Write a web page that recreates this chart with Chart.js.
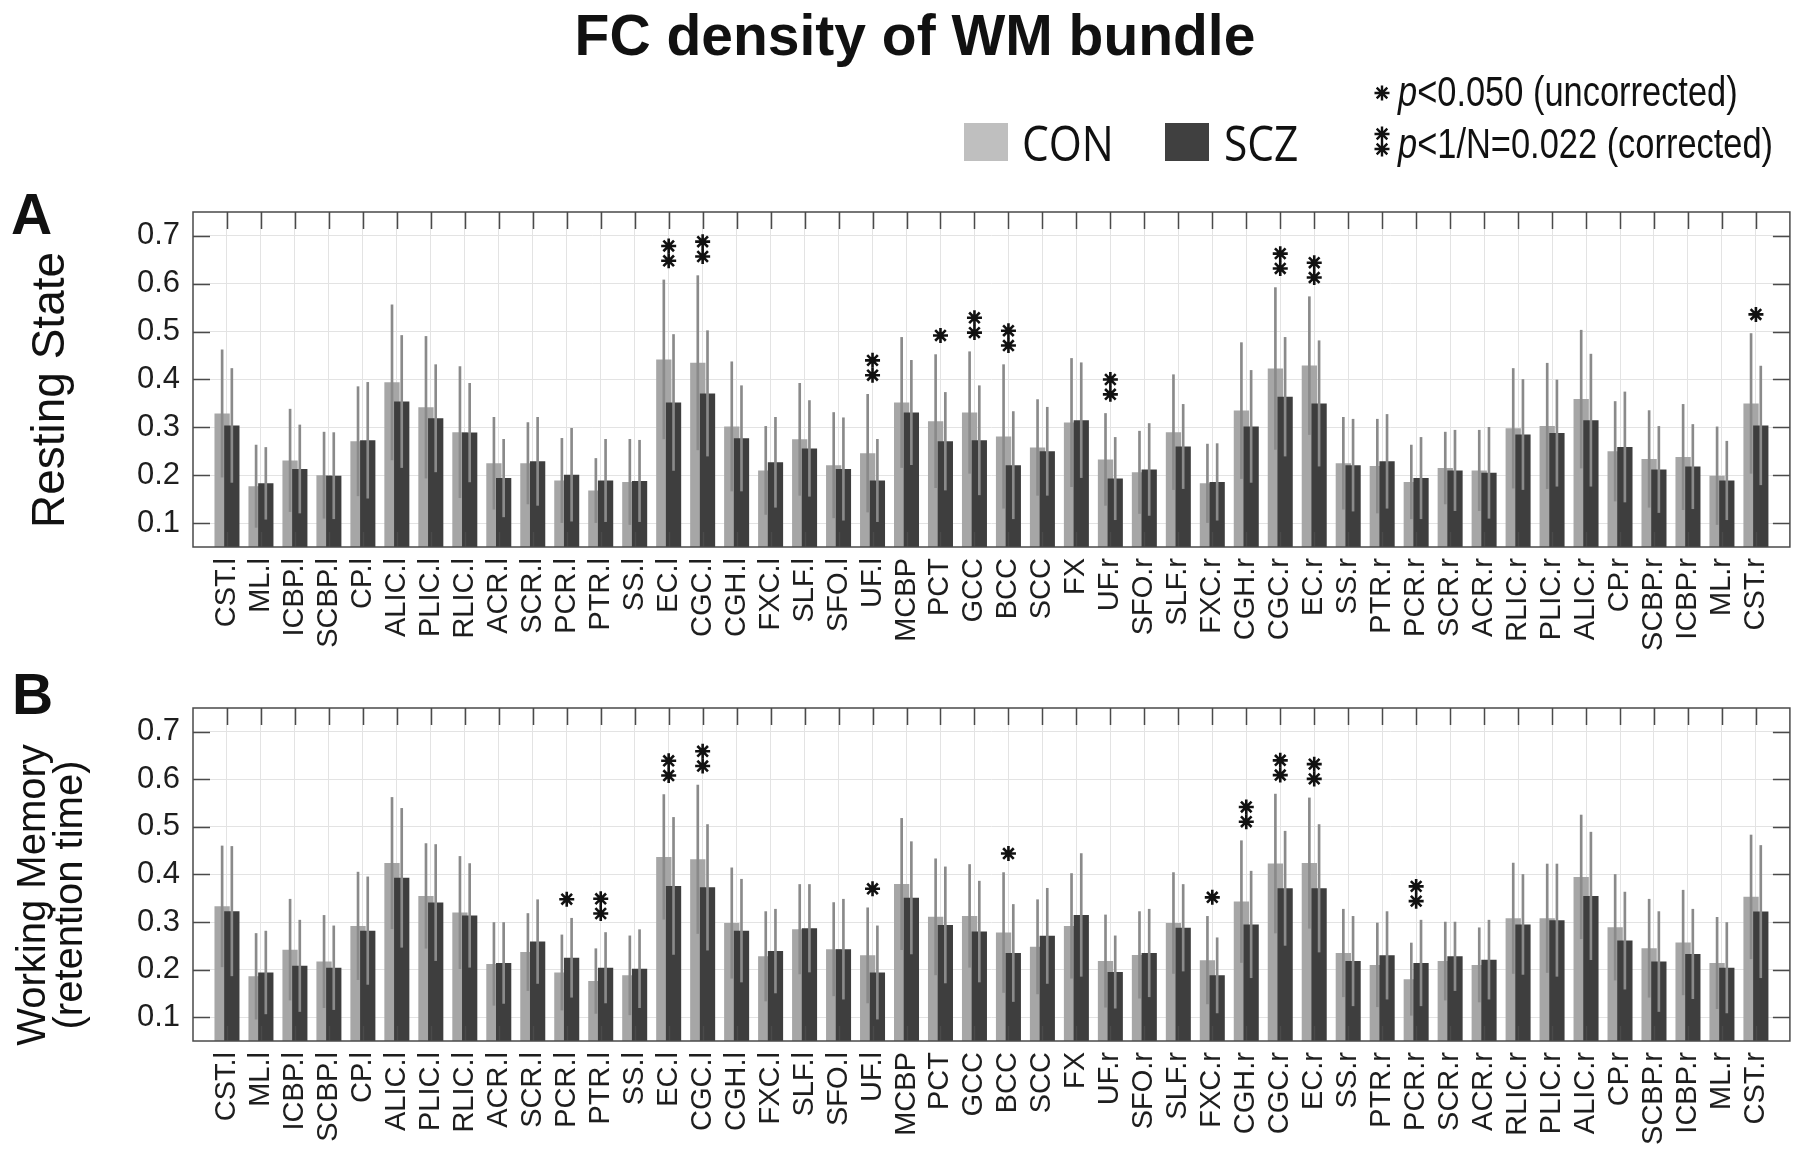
<!DOCTYPE html>
<html><head><meta charset="utf-8">
<script src="https://cdn.jsdelivr.net/npm/chart.js@4.4.1/dist/chart.umd.min.js"></script>
<style>
html,body{margin:0;padding:0;background:#fff;}
#wrap{position:relative;width:1800px;height:1167px;overflow:hidden;background:#fff;}
canvas{position:absolute;left:0;}
#ov{position:absolute;left:0;top:0;pointer-events:none;}
</style></head><body>
<div id="wrap">
<canvas id="cA" width="1800" height="490" style="top:190px"></canvas>
<canvas id="cB" width="1800" height="477" style="top:690px"></canvas>
<svg id="ov" width="1800" height="1167" xmlns="http://www.w3.org/2000/svg">
  <text x="915" y="55" text-anchor="middle" font-family="Liberation Sans, Arial" font-weight="bold" font-size="57" fill="#111">FC density of WM bundle</text>
  <text x="11" y="234" font-family="Liberation Sans, Arial" font-weight="bold" font-size="57" fill="#111">A</text>
  <text x="12" y="714" font-family="Liberation Sans, Arial" font-weight="bold" font-size="57" fill="#111">B</text>
  <text transform="translate(64,390) rotate(-90)" text-anchor="middle" font-family="Liberation Sans, Arial" font-size="46" fill="#111">Resting State</text>
  <text transform="translate(45,895) rotate(-90)" text-anchor="middle" font-family="Liberation Sans, Arial" font-size="40" fill="#111">Working Memory</text>
  <text transform="translate(82,895) rotate(-90)" text-anchor="middle" font-family="Liberation Sans, Arial" font-size="40" fill="#111">(retention time)</text>
  <rect x="964" y="123" width="44" height="38" fill="#bfbfbf"/>
  <text transform="translate(1022,161) scale(0.85,1)" font-family="Open Sans" font-size="50" fill="#111">CON</text>
  <rect x="1165" y="123" width="44" height="38" fill="#404040"/>
  <text transform="translate(1224,161) scale(0.85,1)" font-family="Open Sans" font-size="50" fill="#111">SCZ</text>
  <g id="legStars" stroke="#111" stroke-width="2.4" fill="none"></g>
  <text transform="translate(1398,106) scale(0.82,1)" font-family="Liberation Sans, Arial" font-size="42" fill="#111"><tspan font-style="italic">p</tspan>&lt;0.050 (uncorrected)</text>
  <text transform="translate(1398,158) scale(0.82,1)" font-family="Liberation Sans, Arial" font-size="42" fill="#111"><tspan font-style="italic">p</tspan>&lt;1/N=0.022 (corrected)</text>
</svg>
</div>
<script>
// ---------------- data ----------------
const categories = ['CST.l','ML.l','ICBP.l','SCBP.l','CP.l','ALIC.l','PLIC.l','RLIC.l','ACR.l','SCR.l','PCR.l','PTR.l','SS.l','EC.l','CGC.l','CGH.l','FXC.l','SLF.l','SFO.l','UF.l','MCBP','PCT','GCC','BCC','SCC','FX','UF.r','SFO.r','SLF.r','FXC.r','CGH.r','CGC.r','EC.r','SS.r','PTR.r','PCR.r','SCR.r','ACR.r','RLIC.r','PLIC.r','ALIC.r','CP.r','SCBP.r','ICBP.r','ML.r','CST.r'];

// Panel A: Resting State (mean and SD)
const restCON   = [0.329,0.177,0.231,0.200,0.271,0.394,0.342,0.290,0.225,0.225,0.189,0.168,0.186,0.442,0.435,0.302,0.210,0.275,0.221,0.246,0.352,0.313,0.331,0.281,0.258,0.310,0.233,0.206,0.290,0.183,0.335,0.423,0.429,0.225,0.219,0.186,0.215,0.210,0.298,0.303,0.359,0.250,0.234,0.238,0.199,0.350];
const restCONsd = [0.133,0.086,0.107,0.090,0.114,0.162,0.148,0.137,0.096,0.085,0.088,0.067,0.089,0.166,0.182,0.135,0.092,0.117,0.110,0.123,0.136,0.139,0.127,0.150,0.100,0.134,0.096,0.086,0.120,0.082,0.142,0.169,0.144,0.096,0.098,0.077,0.075,0.084,0.125,0.131,0.144,0.104,0.101,0.110,0.102,0.146];
const restSCZ   = [0.304,0.183,0.213,0.199,0.273,0.354,0.319,0.289,0.194,0.229,0.201,0.189,0.188,0.352,0.371,0.277,0.227,0.256,0.213,0.189,0.331,0.271,0.273,0.221,0.250,0.315,0.193,0.212,0.260,0.186,0.302,0.364,0.350,0.221,0.229,0.194,0.210,0.205,0.285,0.288,0.315,0.259,0.212,0.218,0.189,0.304];
const restSCZsd = [0.119,0.075,0.092,0.090,0.121,0.138,0.112,0.103,0.081,0.092,0.097,0.086,0.085,0.142,0.131,0.110,0.094,0.100,0.107,0.086,0.109,0.102,0.114,0.112,0.092,0.120,0.086,0.096,0.088,0.080,0.117,0.124,0.131,0.096,0.098,0.085,0.084,0.095,0.115,0.111,0.138,0.115,0.090,0.088,0.082,0.124];
// significance: 1 = p<0.050 uncorrected, 2 = corrected
const restSig   = [0,0,0,0,0,0,0,0,0,0, 0,0,0,2,2,0,0,0,0,2, 0,1,2,2,0,0,2,0,0,0, 0,2,2,0,0,0,0,0,0,0, 0,0,0,0,0,1];

// Panel B: Working Memory (retention time)
const wmCON   = [0.333,0.186,0.242,0.217,0.292,0.424,0.355,0.320,0.212,0.237,0.194,0.176,0.188,0.437,0.432,0.298,0.228,0.285,0.243,0.230,0.380,0.311,0.313,0.278,0.248,0.292,0.218,0.231,0.298,0.220,0.343,0.423,0.424,0.235,0.210,0.180,0.218,0.210,0.308,0.308,0.395,0.289,0.245,0.257,0.214,0.353];
const wmCONsd = [0.127,0.090,0.106,0.097,0.113,0.138,0.110,0.118,0.087,0.081,0.079,0.068,0.083,0.131,0.156,0.116,0.094,0.094,0.098,0.100,0.138,0.122,0.108,0.126,0.099,0.110,0.097,0.091,0.106,0.092,0.128,0.146,0.137,0.092,0.088,0.076,0.082,0.078,0.116,0.114,0.130,0.111,0.103,0.110,0.096,0.130];
const wmSCZ   = [0.323,0.194,0.208,0.204,0.282,0.393,0.341,0.314,0.214,0.259,0.225,0.204,0.202,0.376,0.373,0.282,0.239,0.287,0.243,0.194,0.351,0.294,0.280,0.235,0.271,0.315,0.195,0.235,0.288,0.188,0.295,0.371,0.371,0.218,0.230,0.214,0.228,0.221,0.295,0.304,0.355,0.261,0.217,0.233,0.204,0.322];
const wmSCZsd = [0.136,0.087,0.096,0.088,0.113,0.146,0.122,0.109,0.085,0.088,0.083,0.074,0.082,0.144,0.132,0.108,0.088,0.092,0.105,0.098,0.118,0.122,0.106,0.102,0.100,0.129,0.076,0.092,0.091,0.079,0.112,0.120,0.134,0.094,0.092,0.090,0.072,0.083,0.105,0.118,0.134,0.102,0.105,0.094,0.095,0.139];
const wmSig   = [0,0,0,0,0,0,0,0,0,0, 1,2,0,2,2,0,0,0,0,1, 0,0,0,1,0,0,0,0,0,1, 2,2,2,0,0,2,0,0,0,0, 0,0,0,0,0,0];

const yTickValues = [0.1,0.2,0.3,0.4,0.5,0.6,0.7];

// ---------------- styling ----------------
const COL_CON = '#a6a6a6', COL_SCZ = '#3e3e3e', COL_ERR = '#8a8a8a';
const SHIFT = 0.143;       // half-offset of the two overlapping bars (category units)
const STAR_GAP = 0.04, STAR_STEP = 0.031;

// legend asterisks (decoration)
(function(){
  const g = document.getElementById('legStars');
  function star(cx, cy, r){
    const d = r*0.7071;
    return `M${cx},${cy-r}V${cy+r}M${cx-r},${cy}H${cx+r}M${cx-d},${cy-d}L${cx+d},${cy+d}M${cx+d},${cy-d}L${cx-d},${cy+d}`;
  }
  g.innerHTML = `<path d="${star(1382,93,7.5)} ${star(1382,134,7.5)} ${star(1382,149,7.5)}"/>`;
})();

const frameTicks = {
  id: 'frameTicks',
  afterDatasetsDraw(chart) {
    const {ctx, chartArea: a, scales: {x, y}} = chart;
    ctx.save();
    ctx.strokeStyle = '#4a4a4a';
    ctx.lineWidth = 1.5;
    ctx.beginPath();
    x.ticks.forEach(t => {
      const px = Math.round(x.getPixelForValue(t.value)) + 0.5;
      ctx.moveTo(px, a.top); ctx.lineTo(px, a.top + 17);
      ctx.moveTo(px, a.bottom); ctx.lineTo(px, a.bottom - 15);
    });
    y.ticks.forEach(t => {
      const py = Math.round(y.getPixelForValue(t.value)) + 0.5;
      ctx.moveTo(a.left, py); ctx.lineTo(a.left + 17, py);
      ctx.moveTo(a.right, py); ctx.lineTo(a.right - 17, py);
    });
    ctx.stroke();
    ctx.strokeRect(a.left, a.top, a.right - a.left, a.bottom - a.top);
    ctx.restore();
  }
};

function starPoints(con, conSd, scz, sczSd, sig) {
  const pts = [];
  sig.forEach((s, i) => {
    if (!s) return;
    const base = Math.max(con[i] + conSd[i], scz[i] + sczSd[i]) + STAR_GAP;
    for (let k = 0; k < s; k++) pts.push({x: i + 1, y: base + k * STAR_STEP});
  });
  return pts;
}

function makeChart(canvasId, con, conSd, scz, sczSd, sig, padTop, xHeight) {
  const n = categories.length;
  const datasets = [
    {type:'bar', label:'CON', xAxisID:'xc', yAxisID:'y', order:5, grouped:false,
     data: con.map((v,i)=>({x:i+1, y:v})), backgroundColor: COL_CON,
     barPercentage:0.45, categoryPercentage:1.0},
    {type:'bar', label:'CON sd', xAxisID:'xc', yAxisID:'y', order:4, grouped:false,
     data: con.map((v,i)=>({x:i+1, y:[v-conSd[i], v+conSd[i]]})), backgroundColor: COL_ERR,
     barThickness:2},
    {type:'bar', label:'SCZ', xAxisID:'xs', yAxisID:'y', order:3, grouped:false,
     data: scz.map((v,i)=>({x:i+1, y:v})), backgroundColor: COL_SCZ,
     barPercentage:0.45, categoryPercentage:1.0},
    {type:'bar', label:'SCZ sd', xAxisID:'xs', yAxisID:'y', order:2, grouped:false,
     data: scz.map((v,i)=>({x:i+1, y:[v-sczSd[i], v+sczSd[i]]})), backgroundColor: COL_ERR,
     barThickness:2},
    {type:'line', label:'sig', xAxisID:'x', yAxisID:'y', order:1, showLine:false,
     data: starPoints(con, conSd, scz, sczSd, sig),
     pointStyle:'star', pointRadius:7.5, pointBorderWidth:2.6,
     borderColor:'#111', backgroundColor:'#111'}
  ];
  const hiddenX = (lo) => ({type:'linear', display:false, min:lo, max:lo+n+1, offset:false, grid:{offset:false}});
  return new Chart(document.getElementById(canvasId), {
    type:'bar',
    data:{datasets},
    plugins:[frameTicks],
    options:{
      responsive:false, animation:false, devicePixelRatio:1,
      layout:{padding:{top:padTop, right:9, left:0, bottom:0}},
      plugins:{legend:{display:false}, tooltip:{enabled:false}},
      scales:{
        x:{type:'linear', position:'bottom', min:0, max:n+1, offset:false,
           grid:{color:'#e3e3e3', lineWidth:1, drawTicks:false, offset:false},
           border:{display:false},
           afterBuildTicks:(s)=>{ s.ticks = s.ticks.filter(t=>t.value>=1 && t.value<=n); },
           afterFit:(s)=>{ s.height = xHeight; s.paddingLeft = 0; s.paddingRight = 0; },
           ticks:{stepSize:1, autoSkip:false, maxRotation:90, minRotation:90, padding:11,
                  color:'#1e1e1e', font:{family:'Liberation Sans, Arial', size:29},
                  callback:(v)=> categories[Math.round(v)-1] || ''}},
        xc: hiddenX(SHIFT),
        xs: hiddenX(-SHIFT),
        y:{type:'linear', min:0.05, max:0.75, beginAtZero:false,
           grid:{color:'#e3e3e3', lineWidth:1, drawTicks:false},
           border:{display:false},
           afterBuildTicks:(s)=>{ s.ticks = yTickValues.map(v=>({value:v})); },
           afterFit:(s)=>{ s.width = 193; s.paddingTop = 0; s.paddingBottom = 0; },
           ticks:{padding:13, color:'#1e1e1e', font:{family:'Liberation Sans, Arial', size:31},
                  callback:(v)=> Number(v).toFixed(1)}}
      }
    }
  });
}

makeChart('cA', restCON, restCONsd, restSCZ, restSCZsd, restSig, 22, 133);
makeChart('cB', wmCON, wmCONsd, wmSCZ, wmSCZsd, wmSig, 18, 126);
</script>
</body></html>
